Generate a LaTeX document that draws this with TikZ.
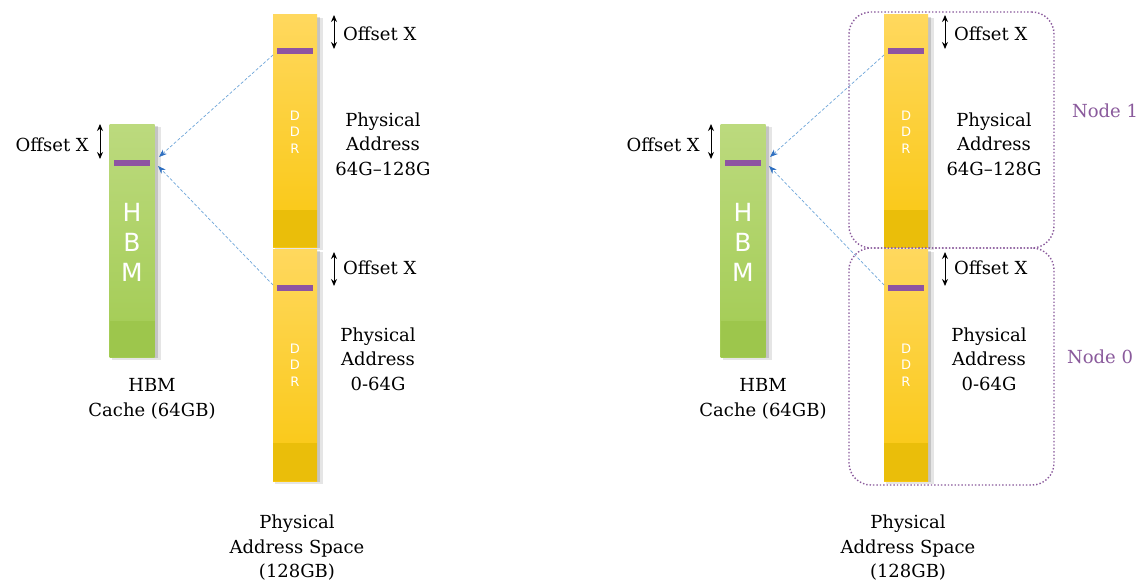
\documentclass[tikz,border=0pt]{standalone}
\usepackage{fontspec}
\setmainfont{DejaVu Serif}
\newfontfamily\barfont{DejaVu Sans}
\usetikzlibrary{arrows.meta}

\definecolor{hbmtop}{HTML}{BCDA7E}
\definecolor{hbmbot}{HTML}{A2CB52}
\definecolor{hbmband}{HTML}{9DC64C}
\definecolor{ddrtop}{HTML}{FFD85E}
\definecolor{ddrbot}{HTML}{F9C70F}
\definecolor{ddrband}{HTML}{EABE0A}
\definecolor{mark}{HTML}{8E54A2}
\definecolor{linkblue}{HTML}{6FA6DA}
\definecolor{tipblue}{HTML}{2E6FC0}
\definecolor{nodepurple}{HTML}{8A5A9C}

\tikzset{
  x=1pt, y=-1pt,
  txt/.style={font=\fontsize{18}{24.5}\selectfont, align=center, inner sep=0pt},
  hbmbar/.style={minimum width=45pt, minimum height=233pt, inner sep=0pt,
    top color=hbmtop, bottom color=hbmbot},
  ddrbar/.style={minimum width=44pt, minimum height=232pt, inner sep=0pt,
    top color=ddrtop, bottom color=ddrbot},
  band/.style={minimum width=#1, minimum height=36pt, inner sep=0pt},
  marker/.style={fill=mark, minimum width=36pt, minimum height=6pt, inner sep=0pt},
  barshadow/.style={fill=black, fill opacity=#1},
  link/.style={draw=linkblue, dash pattern=on 3pt off 2pt, line width=0.7pt,
    -{Stealth[length=8pt,width=6pt,color=tipblue,fill=tipblue]}},
  offarrow/.style={line width=1pt, {Stealth[length=7pt,width=6pt]}-{Stealth[length=7pt,width=6pt]}},
  hbmtext/.style={text=white, font=\barfont\fontsize{25}{30}\selectfont, align=center, inner sep=0pt},
  ddrtext/.style={text=white, font=\barfont\fontsize{13}{16.5}\selectfont, align=center, inner sep=0pt},
  nodebox/.style={draw=nodepurple, dotted, line width=1.4pt, rounded corners=22pt},
  nodelabel/.style={text=nodepurple, font=\fontsize{18}{24.5}\selectfont, inner sep=0pt},
}

% One HBM bar, two DDR bars, their offsets and the mapping arrows
\newcommand\memorypanel[2]{%
\begin{scope}[xshift=#1]
  % soft shadows on the right of each bar
  \fill[barshadow=0.10] (112,127) rectangle (161,360);
  \fill[barshadow=0.14] (112,126) rectangle (158,358);
  \fill[barshadow=0.10] (275,18) rectangle (323,250);
  \fill[barshadow=0.14] (275,17) rectangle (320,248);
  \fill[barshadow=0.10] (275,252) rectangle (323,484);
  \fill[barshadow=0.14] (275,251) rectangle (320,482);

  % HBM
  \node[hbmbar] (#2hbm) at (132,240.5) {};
  \node[band=45pt, fill=hbmband, anchor=south] (#2hbmband) at (#2hbm.south) {};
  \node[marker] (#2hbmmark) at (132,163) {};
  \node[hbmtext] (#2hbmtxt) at (132,242) {H\\B\\M};

  % DDR, upper half of the address space
  \node[ddrbar] (#2ddrhi) at (295,131) {};
  \node[band=44pt, minimum height=37pt, fill=ddrband, anchor=south] (#2hiband) at (#2ddrhi.south) {};
  \node[marker] (#2himark) at (295,51) {};
  \node[ddrtext] (#2hitxt) at (295,132) {D\\D\\R};

  % DDR, lower half of the address space
  \node[ddrbar] (#2ddrlo) at (295,365) {};
  \node[band=44pt, minimum height=38pt, fill=ddrband, anchor=south] (#2loband) at (#2ddrlo.south) {};
  \node[marker] (#2lomark) at (295,288) {};
  \node[ddrtext] (#2lotxt) at (295,365) {D\\D\\R};

  % both DDR lines map onto the same HBM line
  \coordinate (#2hisrc) at (273,55);
  \coordinate (#2losrc) at (273,285);
  \coordinate (#2hidst) at (159,157);
  \coordinate (#2lodst) at (158,166);
  \draw[link] (#2hisrc) -- (#2hidst);
  \draw[link] (#2losrc) -- (#2lodst);

  % offsets
  \coordinate (#2oa1) at (100,124);
  \coordinate (#2ob1) at (100,159);
  \draw[offarrow] (#2oa1) -- (#2ob1);
  \node[txt, anchor=east] (#2off1) at (89,145) {Offset X};
  \coordinate (#2oa2) at (334,15);
  \coordinate (#2ob2) at (334,49);
  \draw[offarrow] (#2oa2) -- (#2ob2);
  \node[txt, anchor=west] (#2off2) at (343,34) {Offset X};
  \coordinate (#2oa3) at (334,252);
  \coordinate (#2ob3) at (334,286);
  \draw[offarrow] (#2oa3) -- (#2ob3);
  \node[txt, anchor=west] (#2off3) at (343,268) {Offset X};

  % captions
  \node[txt] (#2hicap) at (383,144) {Physical\\Address\\64G–128G};
  \node[txt] (#2locap) at (378,359) {Physical\\Address\\0-64G};
  \node[txt] (#2hbmcap) at (152,399) {HBM\\Cache (64GB)};
  \node[txt] (#2spacecap) at (297,548) {Physical\\Address Space\\(128GB)};
\end{scope}}

\begin{document}
\begin{tikzpicture}
  \useasboundingbox[fill=white] (0,0) rectangle (1145,586);

  \memorypanel{0pt}{l}
  \memorypanel{611pt}{r}

  % NUMA nodes on the right
  \node[nodebox, minimum width=205pt, minimum height=236pt, inner sep=0pt] (node1) at (951.5,130) {};
  \node[nodebox, minimum width=205pt, minimum height=237pt, inner sep=0pt] (node0) at (951.5,366.5) {};
  \node[nodelabel] (node1lbl) at (1105,111) {Node 1};
  \node[nodelabel] (node0lbl) at (1100,357) {Node 0};
\end{tikzpicture}
\end{document}
